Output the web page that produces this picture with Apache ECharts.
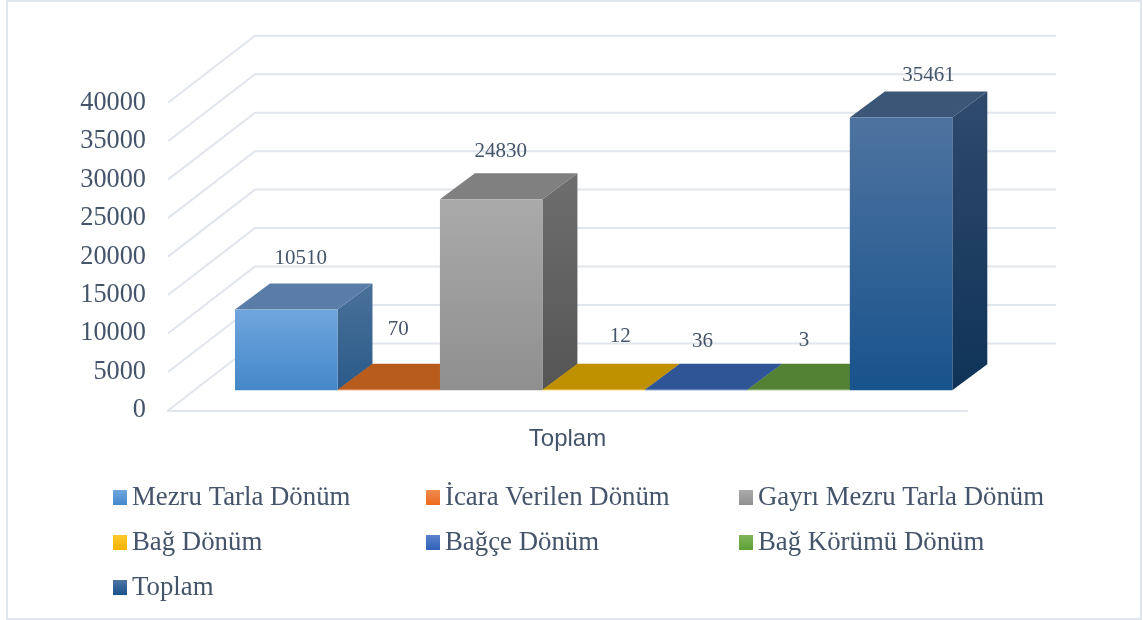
<!DOCTYPE html>
<html>
<head>
<meta charset="utf-8">
<style>html,body{margin:0;padding:0;background:#fff}#c{width:1143px;height:620px}</style>
<script src="https://cdn.jsdelivr.net/npm/echarts@6/dist/echarts.min.js"></script>
</head>
<body>
<div id="c"></div>
<script>
var categories = ['Toplam'];
var seriesNames = ['Mezru Tarla Dönüm','İcara Verilen Dönüm','Gayrı Mezru Tarla Dönüm','Bağ Dönüm','Bağçe Dönüm','Bağ Körümü Dönüm','Toplam'];
var seriesValues = [10510, 70, 24830, 12, 36, 3, 35461];
var valueTicks = [0,5000,10000,15000,20000,25000,30000,35000,40000];

// styles, kept apart from the data
var frontTop  = ['#70a6de','#f08a50','#aaaaaa','#ffc92e','#5b82cc','#7fb658','#4e73a0'];
var frontBot  = ['#4487c9','#ec6a1e','#8f8f8f','#f0b400','#2f62b8','#5d9f34','#18538c'];
var topColor  = ['#5a7da8','#b85c1e','#808080','#bf9000','#2f5597','#548235','#3c5678'];
var sideTop   = ['#4a7199','#a04e18','#6e6e6e','#a67d00','#264a85','#47702c','#2f4a6c'];
var sideBot   = ['#2a5a8a','#8f4512','#555555','#8f6c00','#1f3f73','#3b5f24','#0f3358'];
var labelNudge = [[-3,-25],[-8,-34],[-8,-22],[9,-27],[-11,-22],[-12,-23],[10,-16]];

var INK = '#44546a', GRID = '#e1e5ec', SERIF = '"Liberation Serif"';
var depthX = 35, depthY = 26, wallX = 87, wallY = 67;
var barShare = 0.12825, shiftX = 26.15, liftY = 20.2;

function vgrad(a, b){
  return {type:'linear',x:0,y:0,x2:0,y2:1,colorStops:[{offset:0,color:a},{offset:1,color:b}]};
}

function renderBar(i){
  return function(params, api){
    var v = api.value(1);
    var base = api.coord([api.value(0), 0]);
    var head = api.coord([api.value(0), v]);
    var w = api.size([1,0])[0] * barShare;
    var x0 = base[0] + shiftX + (i - 3) * w - w/2, x1 = x0 + w;
    var yb = base[1] - liftY, h = Math.max(base[1] - head[1], 0.5), yt = yb - h;
    var dx = depthX, dy = depthY;
    var kids = [];
    kids.push({type:'polygon',shape:{points:[[x1,yb],[x1+dx,yb-dy],[x1+dx,yt-dy],[x1,yt]]},
      style:{fill:vgrad(sideTop[i],sideBot[i])}});
    kids.push({type:'polygon',shape:{points:[[x0,yt],[x0+dx,yt-dy],[x1+dx,yt-dy],[x1,yt]]},
      style:{fill:topColor[i]}});
    kids.push({type:'rect',shape:{x:x0,y:yt,width:w,height:h},
      style:{fill:vgrad(frontTop[i],frontBot[i])}});
    kids.push({type:'text',z2:50,style:{
      text:String(v),x:(x0+x1)/2+dx/2+labelNudge[i][0],y:yt-dy+labelNudge[i][1],
      textAlign:'center',textVerticalAlign:'middle',
      font:'21px '+SERIF,fill:INK}});
    return {type:'group',children:kids};
  };
}

function renderGrid(params, api){
  var p = api.coord([0, api.value(0)]);
  var band = api.size([1,0])[0];
  var xl = p[0] - band/2;
  return {type:'polyline',shape:{points:[[xl,p[1]],[xl+wallX,p[1]-wallY],[xl+wallX+band+2,p[1]-wallY]]},
    style:{stroke:GRID,lineWidth:2,fill:null}};
}

var series = [{
  type:'custom',silent:true,renderItem:renderGrid,
  data:valueTicks.map(function(t){return [t];}),
  encode:{y:0},z:1
}];
seriesNames.forEach(function(name,i){
  series.push({
    type:'custom',name:name,renderItem:renderBar(i),
    data:[[0,seriesValues[i]]],encode:{x:0,y:1},z:2,
    itemStyle:{color:vgrad(frontTop[i],frontBot[i])}
  });
});

function legendCol(left, idx){
  return {
    left:left,top:479,orient:'vertical',itemGap:18,itemWidth:14,itemHeight:15,
    icon:'rect',selectedMode:false,
    data:idx.map(function(i){return {name:seriesNames[i],itemStyle:{color:vgrad(frontTop[i],frontBot[i])}};}),
    textStyle:{fontFamily:SERIF,fontSize:26.8,color:INK,lineHeight:27}
  };
}

var chart = echarts.init(document.getElementById('c'),null,{renderer:'canvas'});
chart.setOption({
  animation:false,
  backgroundColor:'#ffffff',
  graphic:[{type:'rect',silent:true,z:-1,shape:{x:7,y:1,width:1134,height:618},
    style:{fill:'#fff',stroke:GRID,lineWidth:2}}],
  grid:{left:168,right:176,top:102.7,bottom:209.5,containLabel:false},
  xAxis:{type:'category',data:categories,
    axisLine:{show:true,lineStyle:{color:GRID,width:2}},axisTick:{show:false},
    axisLabel:{fontFamily:'"Liberation Sans"',fontSize:24,color:INK,margin:16.5},
    splitLine:{show:false}},
  yAxis:{type:'value',min:0,max:40000,interval:5000,
    axisLine:{show:false},axisTick:{show:false},splitLine:{show:false},
    axisLabel:{fontFamily:SERIF,fontSize:26.3,color:INK,margin:22,
      formatter:function(v){return String(v);}}},
  legend:[legendCol(108,[0,3,6]),legendCol(421,[1,4]),legendCol(734,[2,5])],
  series:series
});
</script>
</body>
</html>
